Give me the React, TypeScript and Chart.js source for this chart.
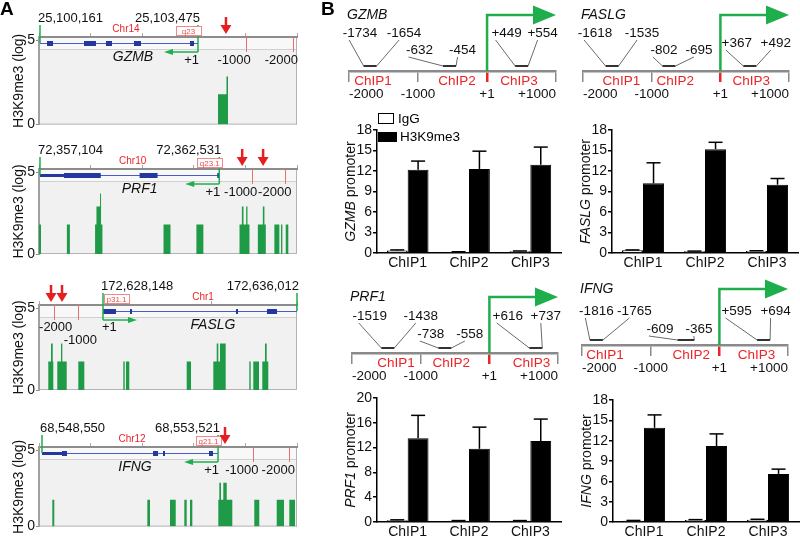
import React, { useEffect, useRef } from 'react';
import { Chart, registerables } from 'chart.js';

Chart.register(...registerables);

const FONT = '"Liberation Sans", Arial, Helvetica, sans-serif';
Chart.defaults.font.family = FONT;
Chart.defaults.color = '#111';

const GREEN_SIGNAL = '#1f9a47';
const GREEN_ARROW = '#1fae4c';
const RED = '#ec2427';
const BLUE = '#23379e';

// ---------------- Panel A: H3K9me3 browser tracks ----------------
// signal segments: [start, end, log signal]
const GZMB_RANGE = [25100140, 25105551];
const GZMB_GENE = [25100161, 25103475];
const GZMB_UTRS: number[][] = [];
const GZMB_EXONS = [[25100308, 25100434], [25101084, 25101335], [25101545, 25101671], [25102132, 25102279], [25103307, 25103391]];
const GZMB_SIGNAL = [[25103894, 25104072, 1.8], [25104072, 25104104, 2.85]];
const GZMB_ARROWS = [25104061];

const PRF1_RANGE = [72357074, 72364883];
const PRF1_GENE = [72357104, 72362531];
const PRF1_UTRS = [[72357104, 72357828]];
const PRF1_EXONS = [[72357828, 72358943], [72360119, 72360662], [72362470, 72362531]];
const PRF1_SIGNAL = [
  [72357074, 72357134, 1.8],
  [72357918, 72358009, 1.8],
  [72358771, 72358813, 1.8], [72358813, 72358922, 2.9], [72358922, 72358952, 3.7], [72358952, 72358994, 1.8],
  [72360843, 72361054, 1.8],
  [72361838, 72362049, 1.8],
  [72363143, 72363215, 1.8], [72363215, 72363263, 2.9], [72363263, 72363345, 1.8], [72363345, 72363384, 2.9], [72363384, 72363444, 1.8],
  [72363698, 72363849, 1.8], [72363849, 72363897, 2.9], [72363897, 72363939, 1.8],
  [72364198, 72364349, 1.8],
  [72364400, 72364440, 1.8],
  [72364542, 72364620, 1.8],
];
const PRF1_ARROWS = [72363224, 72363857];

const FASLG_RANGE = [172625553, 172636013];
const FASLG_GENE = [172628148, 172636012];
const FASLG_UTRS: number[][] = [];
const FASLG_EXONS = [[172628148, 172628675], [172629243, 172629300], [172633540, 172633610], [172634797, 172635202]];
const FASLG_SIGNAL = [
  [172625930, 172626040, 1.75], [172626040, 172626109, 2.84], [172626109, 172626133, 1.75],
  [172626295, 172626445, 1.75], [172626445, 172626498, 2.84], [172626498, 172626676, 1.75],
  [172627147, 172627390, 1.75],
  [172628971, 172629028, 1.75],
  [172629080, 172629214, 1.75],
  [172631541, 172631716, 1.75],
  [172632620, 172632758, 1.75], [172632758, 172632823, 2.84], [172632823, 172632891, 1.75], [172632891, 172633122, 2.84],
  [172634079, 172634135, 1.75],
  [172634241, 172634472, 1.75],
  [172634606, 172634715, 1.75], [172634715, 172634784, 2.84], [172634784, 172634849, 1.75],
];
const FASLG_ARROWS = [172626040, 172626486];

const IFNG_RANGE = [68548465, 68555751];
const IFNG_GENE = [68548550, 68553521];
const IFNG_UTRS = [[68548550, 68549115]];
const IFNG_EXONS = [[68549115, 68549256], [68551685, 68551826], [68551967, 68552023], [68553266, 68553379]];
const IFNG_SIGNAL = [
  [68548841, 68548897, 1.76],
  [68551524, 68551600, 1.76],
  [68552165, 68552326, 1.76],
  [68552569, 68552636, 1.76],
  [68552730, 68552795, 1.76],
  [68553529, 68553557, 1.76], [68553557, 68553605, 2.87], [68553605, 68553670, 1.76], [68553670, 68553766, 2.87], [68553766, 68553924, 1.76],
  [68554545, 68554686, 1.76],
  [68555178, 68555384, 1.76],
  [68555534, 68555695, 1.76],
];
const IFNG_ARROWS = [68553718];

const UPSTREAM_MARKS = [1000, 2000];
const TRACK_Y_TICKS = [0, 5];

// ---------------- Panel B: schematics ----------------
const REGION_TICKS = [-2000, -1000, 1, 1000];
const CHIP_LABELS = ['ChIP1', 'ChIP2', 'ChIP3'];

const GZMB_PRIMERS = [[-1734, -1654], [-632, -454], [449, 554]];
const FASLG_PRIMERS = [[-1618, -1535], [-802, -695], [367, 492]];
const PRF1_PRIMERS = [[-1519, -1438], [-738, -558], [616, 737]];
const IFNG_PRIMERS = [[-1816, -1765], [-609, -365], [595, 694]];

const GZMB_CHIP_AT = [-1652, -435, 464];
const FASLG_CHIP_AT = [-1441, -655, 451];
const PRF1_CHIP_AT = [-1358, -555, 613];
const IFNG_CHIP_AT = [-1664, -409, 540];

// ---------------- Panel B: ChIP-qPCR bars ----------------
const GZMB_IGG = [0.35, 0.15, 0.25];
const GZMB_IGG_ERR = [0.1, 0.03, 0.05];
const GZMB_H3 = [12.2, 12.3, 12.9];
const GZMB_H3_ERR = [1.25, 2.6, 2.6];

const FASLG_IGG = [0.4, 0.25, 0.3];
const FASLG_IGG_ERR = [0.05, 0.03, 0.03];
const FASLG_H3 = [10.2, 15.2, 10.0];
const FASLG_H3_ERR = [3.0, 1.0, 0.9];

const PRF1_IGG = [0.3, 0.2, 0.2];
const PRF1_IGG_ERR = [0.05, 0.03, 0.03];
const PRF1_H3 = [13.5, 11.8, 13.05];
const PRF1_H3_ERR = [3.7, 3.5, 3.55];

const IFNG_IGG = [0.2, 0.3, 0.35];
const IFNG_IGG_ERR = [0.03, 0.05, 0.05];
const IFNG_H3 = [13.9, 11.2, 7.1];
const IFNG_H3_ERR = [1.9, 1.8, 0.7];

// ---------------- layout ----------------
const TRACKS = [
  { name: 'GZMB', chr: 'Chr14', band: 'q23', strand: -1, range: GZMB_RANGE, gene: GZMB_GENE, utrs: GZMB_UTRS, exons: GZMB_EXONS, signal: GZMB_SIGNAL, arrows: GZMB_ARROWS, nameAt: 25102111, chrAt: 25101964, tickStep: 1000, top: 0, padTop: 37, padBottom: 9, letter: 'A' },
  { name: 'PRF1', chr: 'Chr10', band: 'q23.1', strand: -1, range: PRF1_RANGE, gene: PRF1_GENE, utrs: PRF1_UTRS, exons: PRF1_EXONS, signal: PRF1_SIGNAL, arrows: PRF1_ARROWS, nameAt: 72360119, chrAt: 72359908, tickStep: 1500, top: 134, padTop: 35, padBottom: 14 },
  { name: 'FASLG', chr: 'Chr1', band: 'p31.1', strand: 1, range: FASLG_RANGE, gene: FASLG_GENE, utrs: FASLG_UTRS, exons: FASLG_EXONS, signal: FASLG_SIGNAL, arrows: FASLG_ARROWS, nameAt: 172632607, chrAt: 172632202, tickStep: 3000, top: 268, padTop: 37, padBottom: 12 },
  { name: 'IFNG', chr: 'Chr12', band: 'q21.1', strand: -1, range: IFNG_RANGE, gene: IFNG_GENE, utrs: IFNG_UTRS, exons: IFNG_EXONS, signal: IFNG_SIGNAL, arrows: IFNG_ARROWS, nameAt: 68551176, chrAt: 68551092, tickStep: 1500, top: 402, padTop: 45, padBottom: 3 },
];

const SCHEMES = [
  { name: 'GZMB', primers: GZMB_PRIMERS, chipAt: GZMB_CHIP_AT, labels: [[-10, 34, -38], [-30, 13, -21], [-15, 21, -38]], left: 300, top: 0, width: 262, height: 105, padLeft: 49, padRight: 6, axisH: 34, letter: 'B' },
  { name: 'FASLG', primers: FASLG_PRIMERS, chipAt: FASLG_CHIP_AT, labels: [[-17, 30, -38], [-5, 30, -21], [-13, 26, -28]], left: 550, top: 0, width: 250, height: 105, padLeft: 33, padRight: 11, axisH: 34 },
  { name: 'PRF1', primers: PRF1_PRIMERS, chipAt: PRF1_CHIP_AT, labels: [[-18, 33, -37], [-14, 25, -19], [-28, 10, -37]], left: 300, top: 262, width: 262, height: 128, padLeft: 52, padRight: 4, axisH: 37 },
  { name: 'IFNG', primers: IFNG_PRIMERS, chipAt: IFNG_CHIP_AT, labels: [[0, 38, -34], [-26, 13, -16], [-27, 12, -34]], left: 550, top: 262, width: 250, height: 128, padLeft: 32, padRight: 12, axisH: 45 },
];

const BARS = [
  { name: 'GZMB', igg: GZMB_IGG, iggErr: GZMB_IGG_ERR, h3: GZMB_H3, h3Err: GZMB_H3_ERR, max: 18, step: 3, left: 300, top: 95, width: 262, height: 180, padTop: 35, xH: 22, yW: 77, padRight: 1, legend: true },
  { name: 'FASLG', igg: FASLG_IGG, iggErr: FASLG_IGG_ERR, h3: FASLG_H3, h3Err: FASLG_H3_ERR, max: 18, step: 3, left: 550, top: 95, width: 250, height: 180, padTop: 35, xH: 22, yW: 62, padRight: 2 },
  { name: 'PRF1', igg: PRF1_IGG, iggErr: PRF1_IGG_ERR, h3: PRF1_H3, h3Err: PRF1_H3_ERR, max: 20, step: 4, left: 300, top: 375, width: 262, height: 161, padTop: 23, xH: 14, yW: 77, padRight: 1 },
  { name: 'IFNG', igg: IFNG_IGG, iggErr: IFNG_IGG_ERR, h3: IFNG_H3, h3Err: IFNG_H3_ERR, max: 18, step: 3, left: 550, top: 375, width: 250, height: 161, padTop: 25, xH: 14, yW: 63, padRight: 1 },
];

// ---------------- helpers ----------------
const fmtBp = (v: number) => (v > 0 ? '+' + v : String(v));
const fmtCoord = (v: number) => v.toLocaleString('en-US');

function seg(ctx: any, x1: number, y1: number, x2: number, y2: number) {
  ctx.beginPath();
  ctx.moveTo(x1, y1);
  ctx.lineTo(x2, y2);
  ctx.stroke();
}

function stepPoints(segs: number[][], range: number[]) {
  const pts: any[] = [{ x: range[0], y: 0 }];
  segs.forEach(([s, e, h]) => {
    pts.push({ x: s, y: h });
    pts.push({ x: e, y: 0 });
  });
  pts.push({ x: range[1], y: 0 });
  return pts;
}

// ---------------- track ----------------
function trackPlugin(t: any) {
  return {
    id: 'trackDecor',
    beforeDraw(chart: any) {
      const { ctx, chartArea: a } = chart;
      ctx.save();
      ctx.fillStyle = '#f1f1f1';
      ctx.fillRect(a.left, a.top, a.right - a.left, a.bottom - a.top);
      ctx.fillStyle = '#f8f8f8';
      ctx.fillRect(a.left, a.top, a.right - a.left, 12);
      ctx.strokeStyle = '#d0d0d0';
      ctx.lineWidth = 1;
      seg(ctx, a.left, a.top + 12.5, a.right, a.top + 12.5);
      ctx.strokeStyle = '#b4b4b4';
      seg(ctx, a.right - 0.5, a.top, a.right - 0.5, a.bottom);
      seg(ctx, a.left, a.bottom - 0.5, a.right, a.bottom - 0.5);
      ctx.restore();
    },
    afterDraw(chart: any) {
      const { ctx, chartArea: a } = chart;
      const xs = chart.scales.x;
      const X = (v: number) => xs.getPixelForValue(v);
      const tss = t.strand < 0 ? t.gene[1] : t.gene[0];
      const other = t.strand < 0 ? t.gene[0] : t.gene[1];
      const gy = a.top + 6;
      const labY = a.top - 19;
      ctx.save();
      // upstream marks
      ctx.strokeStyle = '#ea7070';
      ctx.lineWidth = 1;
      UPSTREAM_MARKS.forEach((d) => {
        const x = Math.round(X(tss - t.strand * d)) + 0.5;
        seg(ctx, x, a.top, x, a.top + 15);
      });
      // gene model
      ctx.strokeStyle = '#4a5cc8';
      ctx.lineWidth = 1;
      seg(ctx, X(t.gene[0]), gy + 0.5, X(t.gene[1]), gy + 0.5);
      ctx.fillStyle = BLUE;
      t.utrs.forEach(([s, e]: number[]) => ctx.fillRect(X(s), gy - 1, X(e) - X(s), 3));
      t.exons.forEach(([s, e]: number[]) => ctx.fillRect(X(s), gy - 2, Math.max(2, X(e) - X(s)), 5));
      // green markers
      ctx.strokeStyle = GREEN_ARROW;
      ctx.lineWidth = 1.5;
      const xo = X(other);
      seg(ctx, xo, labY + 7, xo, gy);
      const xt = X(tss);
      const ay = gy + 9;
      seg(ctx, xt, labY + 7, xt, ay);
      const dir = t.strand;
      const xe = xt + dir * 30;
      seg(ctx, xt, ay, xe, ay);
      ctx.fillStyle = GREEN_ARROW;
      ctx.beginPath();
      ctx.moveTo(xe + dir * 4, ay);
      ctx.lineTo(xe - dir * 5, ay - 3);
      ctx.lineTo(xe - dir * 5, ay + 3);
      ctx.closePath();
      ctx.fill();
      // coordinate labels
      ctx.fillStyle = '#111';
      ctx.font = `13px ${FONT}`;
      ctx.textBaseline = 'middle';
      ctx.textAlign = 'left';
      ctx.fillText(fmtCoord(t.gene[0]), X(t.gene[0]) - 2, labY);
      ctx.textAlign = 'right';
      ctx.fillText(fmtCoord(t.gene[1]), X(t.gene[1]) + 2, labY);
      // chromosome
      ctx.fillStyle = RED;
      ctx.font = `10px ${FONT}`;
      ctx.textAlign = 'center';
      ctx.fillText(t.chr, X(t.chrAt), a.top - 8);
      // band box
      const bw = 25;
      const bx = t.strand < 0 ? xt + 3 - bw : xt + 1;
      ctx.fillStyle = '#ffffff';
      ctx.fillRect(bx, a.top - 10, bw, 9);
      ctx.strokeStyle = '#f08a8a';
      ctx.lineWidth = 1;
      ctx.strokeRect(Math.round(bx) + 0.5, a.top - 10.5, bw, 9);
      ctx.fillStyle = '#e85050';
      ctx.font = `8px ${FONT}`;
      ctx.fillText(t.band, bx + bw / 2, a.top - 5.5);
      // gene name
      ctx.fillStyle = '#111';
      ctx.font = `italic 14px ${FONT}`;
      ctx.textAlign = 'center';
      ctx.fillText(t.name, X(t.nameAt), a.top + 20);
      // position labels
      ctx.font = `13px ${FONT}`;
      if (t.strand < 0) {
        ctx.textAlign = 'right';
        ctx.fillText('+1', xt + 1, a.top + 23);
        ctx.fillText('-1000', Math.min(X(tss + 1000) + 5, a.right + 1), a.top + 23);
        ctx.fillText('-2000', Math.min(X(tss + 2000) + 6, a.right + 1), a.top + 23);
      } else {
        ctx.textAlign = 'left';
        ctx.fillText('+1', xt - 1, a.top + 22);
        ctx.textAlign = 'center';
        ctx.fillText('-1000', X(tss - 1000) + 2, a.top + 35);
        ctx.fillText('-2000', X(tss - 2000) + 2, a.top + 22);
      }
      // red arrows
      ctx.fillStyle = '#e51f1f';
      ctx.strokeStyle = '#e51f1f';
      ctx.lineWidth = 2.5;
      t.arrows.forEach((g: number) => {
        const x = X(g);
        seg(ctx, x, a.top - 20, x, a.top - 10);
        ctx.beginPath();
        ctx.moveTo(x - 5.5, a.top - 12);
        ctx.lineTo(x + 5.5, a.top - 12);
        ctx.lineTo(x, a.top - 3);
        ctx.closePath();
        ctx.fill();
      });
      if (t.letter) {
        ctx.fillStyle = '#000';
        ctx.font = `bold 19px ${FONT}`;
        ctx.textAlign = 'left';
        ctx.textBaseline = 'alphabetic';
        ctx.fillText(t.letter, 0, 15);
      }
      ctx.restore();
    },
  };
}

function trackConfig(t: any): any {
  return {
    type: 'line',
    data: {
      datasets: [
        {
          data: stepPoints(t.signal, t.range),
          stepped: true,
          fill: 'origin',
          backgroundColor: GREEN_SIGNAL,
          borderColor: 'rgba(0,0,0,0)',
          borderWidth: 0,
          pointRadius: 0,
        },
      ],
    },
    options: {
      animation: false,
      responsive: false,
      maintainAspectRatio: false,
      events: [],
      layout: { padding: { top: t.padTop, bottom: t.padBottom, left: 0, right: 3 } },
      scales: {
        x: {
          type: 'linear',
          position: 'top',
          min: t.range[0],
          max: t.range[1],
          ticks: { display: false, stepSize: t.tickStep, includeBounds: false },
          grid: { drawOnChartArea: false, tickLength: 4, color: '#a8a8a8', lineWidth: 1 },
          border: { color: '#8c8c8c', width: 2 },
          afterFit: (ax: any) => { ax.height = 0; },
        },
        y: {
          min: 0,
          max: 5.2,
          afterBuildTicks: (ax: any) => { ax.ticks = TRACK_Y_TICKS.map((v) => ({ value: v })); },
          ticks: { font: { size: 14 }, color: '#111', padding: 1 },
          grid: { drawOnChartArea: false, tickLength: 3, color: '#888' },
          border: { color: '#a0a0a0', width: 2 },
          title: { display: true, text: 'H3K9me3 (log)', font: { size: 14 }, color: '#111', padding: { top: 11, bottom: 0 } },
          afterFit: (ax: any) => { ax.width = 39; },
        },
      },
      plugins: { legend: { display: false }, tooltip: { enabled: false } },
    },
    plugins: [trackPlugin(t)],
  };
}

// ---------------- schematic ----------------
function schemePlugin(s: any) {
  return {
    id: 'schemeDecor',
    afterDraw(chart: any) {
      const { ctx, chartArea: a } = chart;
      const xs = chart.scales.x;
      const X = (v: number) => xs.getPixelForValue(v);
      const ay = a.bottom;
      ctx.save();
      ctx.textBaseline = 'middle';
      // gene name
      ctx.fillStyle = '#111';
      ctx.font = `italic 14px ${FONT}`;
      ctx.textAlign = 'left';
      ctx.fillText(s.name, a.left - 2, ay - 56);
      // ChIP region labels
      ctx.fillStyle = RED;
      ctx.font = `13.5px ${FONT}`;
      ctx.textAlign = 'center';
      s.chipAt.forEach((p: number, i: number) => ctx.fillText(CHIP_LABELS[i], X(p), ay + 10));
      // primers
      s.primers.forEach(([p1, p2]: number[], i: number) => {
        const [dl, dr, dy] = s.labels[i];
        const xa = X(p1);
        const xb = X(p2);
        const mid = (xa + xb) / 2;
        const half = Math.max(6.5, (xb - xa) / 2);
        const fy = ay - 5;
        const ly = ay + dy;
        const lc = mid + dl;
        const rc = mid + dr;
        ctx.strokeStyle = '#6a6a6a';
        ctx.lineWidth = 1;
        seg(ctx, lc - 11, ly + 7, mid - half, fy);
        seg(ctx, mid + half, fy, rc - 5, ly + 7);
        ctx.strokeStyle = '#333';
        ctx.lineWidth = 2;
        seg(ctx, mid - half, fy, mid + half, fy);
        ctx.fillStyle = '#111';
        ctx.font = `13.5px ${FONT}`;
        ctx.fillText(fmtBp(p1), lc, ly);
        ctx.fillText(fmtBp(p2), rc, ly);
      });
      // TSS arrow
      const tx = X(1);
      const hy = ay - 56;
      const ex = X(1000);
      ctx.strokeStyle = GREEN_ARROW;
      ctx.lineWidth = 2.5;
      ctx.beginPath();
      ctx.moveTo(tx, ay);
      ctx.lineTo(tx, hy);
      ctx.lineTo(ex - 20, hy);
      ctx.stroke();
      ctx.fillStyle = GREEN_ARROW;
      ctx.beginPath();
      ctx.moveTo(ex - 23, hy - 9.5);
      ctx.lineTo(ex, hy);
      ctx.lineTo(ex - 23, hy + 9.5);
      ctx.closePath();
      ctx.fill();
      if (s.letter) {
        ctx.fillStyle = '#000';
        ctx.font = `bold 19px ${FONT}`;
        ctx.textAlign = 'left';
        ctx.textBaseline = 'alphabetic';
        ctx.fillText(s.letter, 21, 15);
      }
      ctx.restore();
    },
  };
}

function schemeConfig(s: any): any {
  return {
    type: 'scatter',
    data: { datasets: [] },
    options: {
      animation: false,
      responsive: false,
      maintainAspectRatio: false,
      events: [],
      layout: { padding: { left: s.padLeft, right: s.padRight, top: 0, bottom: 0 } },
      scales: {
        x: {
          type: 'linear',
          min: -2000,
          max: 1000,
          afterBuildTicks: (ax: any) => { ax.ticks = REGION_TICKS.map((v) => ({ value: v })); },
          ticks: { callback: (v: any) => fmtBp(Number(v)), align: 'inner', autoSkip: false, maxRotation: 0, font: { size: 13.5 }, color: '#111', padding: 4 },
          grid: {
            drawOnChartArea: false,
            tickLength: 11,
            color: (c: any) => (c.tick && c.tick.value === 1 ? RED : '#8a8a8a'),
            lineWidth: (c: any) => (c.tick && c.tick.value === 1 ? 2.5 : 1.5),
          },
          border: { color: '#8a8a8a', width: 2.5 },
          afterFit: (ax: any) => { ax.height = s.axisH; },
        },
        y: { display: false, min: 0, max: 1 },
      },
      plugins: { legend: { display: false }, tooltip: { enabled: false } },
    },
    plugins: [schemePlugin(s)],
  };
}

// ---------------- bars ----------------
function barPlugin(b: any) {
  return {
    id: 'barDecor',
    afterDatasetsDraw(chart: any) {
      const { ctx } = chart;
      const ys = chart.scales.y;
      ctx.save();
      ctx.strokeStyle = '#000';
      ctx.lineWidth = 1.5;
      [[b.igg, b.iggErr], [b.h3, b.h3Err]].forEach(([vals, errs]: any, di: number) => {
        const meta = chart.getDatasetMeta(di);
        meta.data.forEach((el: any, i: number) => {
          const x = el.x;
          const y0 = ys.getPixelForValue(vals[i]);
          const y1 = ys.getPixelForValue(vals[i] + errs[i]);
          seg(ctx, x, y0, x, y1);
          seg(ctx, x - 7, y1, x + 7, y1);
        });
      });
      ctx.restore();
    },
    afterDraw(chart: any) {
      const { ctx, chartArea: a } = chart;
      ctx.save();
      ctx.translate(a.left - 26, (a.top + a.bottom) / 2);
      ctx.rotate(-Math.PI / 2);
      ctx.font = `italic 14px ${FONT}`;
      const w1 = ctx.measureText(b.name).width;
      ctx.font = `14px ${FONT}`;
      const w2 = ctx.measureText(' promoter').width;
      const st = -(w1 + w2) / 2;
      ctx.textBaseline = 'middle';
      ctx.textAlign = 'left';
      ctx.fillStyle = '#111';
      ctx.font = `italic 14px ${FONT}`;
      ctx.fillText(b.name, st, 0);
      ctx.font = `14px ${FONT}`;
      ctx.fillText(' promoter', st + w1, 0);
      ctx.restore();
      if (b.legend) {
        ctx.save();
        ctx.strokeStyle = '#000';
        ctx.lineWidth = 1;
        ctx.fillStyle = '#fff';
        ctx.fillRect(a.left + 1.5, a.top - 16.5, 15, 10);
        ctx.strokeRect(a.left + 1.5, a.top - 16.5, 15, 10);
        ctx.fillStyle = '#000';
        ctx.fillRect(a.left + 1, a.top + 2, 19, 10);
        ctx.font = `13.5px ${FONT}`;
        ctx.textBaseline = 'middle';
        ctx.textAlign = 'left';
        ctx.fillText('IgG', a.left + 21, a.top - 11);
        ctx.fillText('H3K9me3', a.left + 23, a.top + 7);
        ctx.restore();
      }
    },
  };
}

function barConfig(b: any): any {
  return {
    type: 'bar',
    data: {
      labels: CHIP_LABELS,
      datasets: [
        { label: 'IgG', data: b.igg, backgroundColor: '#ffffff', borderColor: '#000', borderWidth: 1.5, categoryPercentage: 0.68, barPercentage: 1 },
        { label: 'H3K9me3', data: b.h3, backgroundColor: '#000', borderColor: '#000', borderWidth: 1, categoryPercentage: 0.68, barPercentage: 1 },
      ],
    },
    options: {
      animation: false,
      responsive: false,
      maintainAspectRatio: false,
      events: [],
      layout: { padding: { left: 0, right: b.padRight, top: b.padTop, bottom: 0 } },
      scales: {
        x: {
          grid: { display: false, drawTicks: false },
          border: { color: '#000', width: 1.5 },
          ticks: { font: { size: 14 }, color: '#111', padding: 2 },
          afterFit: (ax: any) => { ax.height = b.xH; },
        },
        y: {
          min: 0,
          max: b.max,
          ticks: { stepSize: b.step, font: { size: 14 }, color: '#111', padding: 1 },
          grid: { drawOnChartArea: false, color: '#000', lineWidth: 1.5, tickLength: 4 },
          border: { color: '#000', width: 1.5 },
          afterFit: (ax: any) => { ax.width = b.yW; },
        },
      },
      plugins: { legend: { display: false }, tooltip: { enabled: false } },
    },
    plugins: [barPlugin(b)],
  };
}

// ---------------- components ----------------
function ChartCanvas({ left, top, width, height, make }: any) {
  const ref = useRef<HTMLCanvasElement | null>(null);
  useEffect(() => {
    if (!ref.current) return;
    const chart = new Chart(ref.current, make());
    return () => chart.destroy();
  }, []);
  return (
    <canvas
      ref={ref}
      width={width}
      height={height}
      style={{ position: 'absolute', left, top, width, height }}
    />
  );
}

export default function App() {
  return (
    <div style={{ position: 'absolute', left: 0, top: 0, width: 800, height: 536, background: '#fff', overflow: 'hidden' }}>
      {TRACKS.map((t) => (
        <ChartCanvas key={'t' + t.name} left={0} top={t.top} width={300} height={134} make={() => trackConfig(t)} />
      ))}
      {SCHEMES.map((s) => (
        <ChartCanvas key={'s' + s.name} left={s.left} top={s.top} width={s.width} height={s.height} make={() => schemeConfig(s)} />
      ))}
      {BARS.map((b) => (
        <ChartCanvas key={'b' + b.name} left={b.left} top={b.top} width={b.width} height={b.height} make={() => barConfig(b)} />
      ))}
    </div>
  );
}
